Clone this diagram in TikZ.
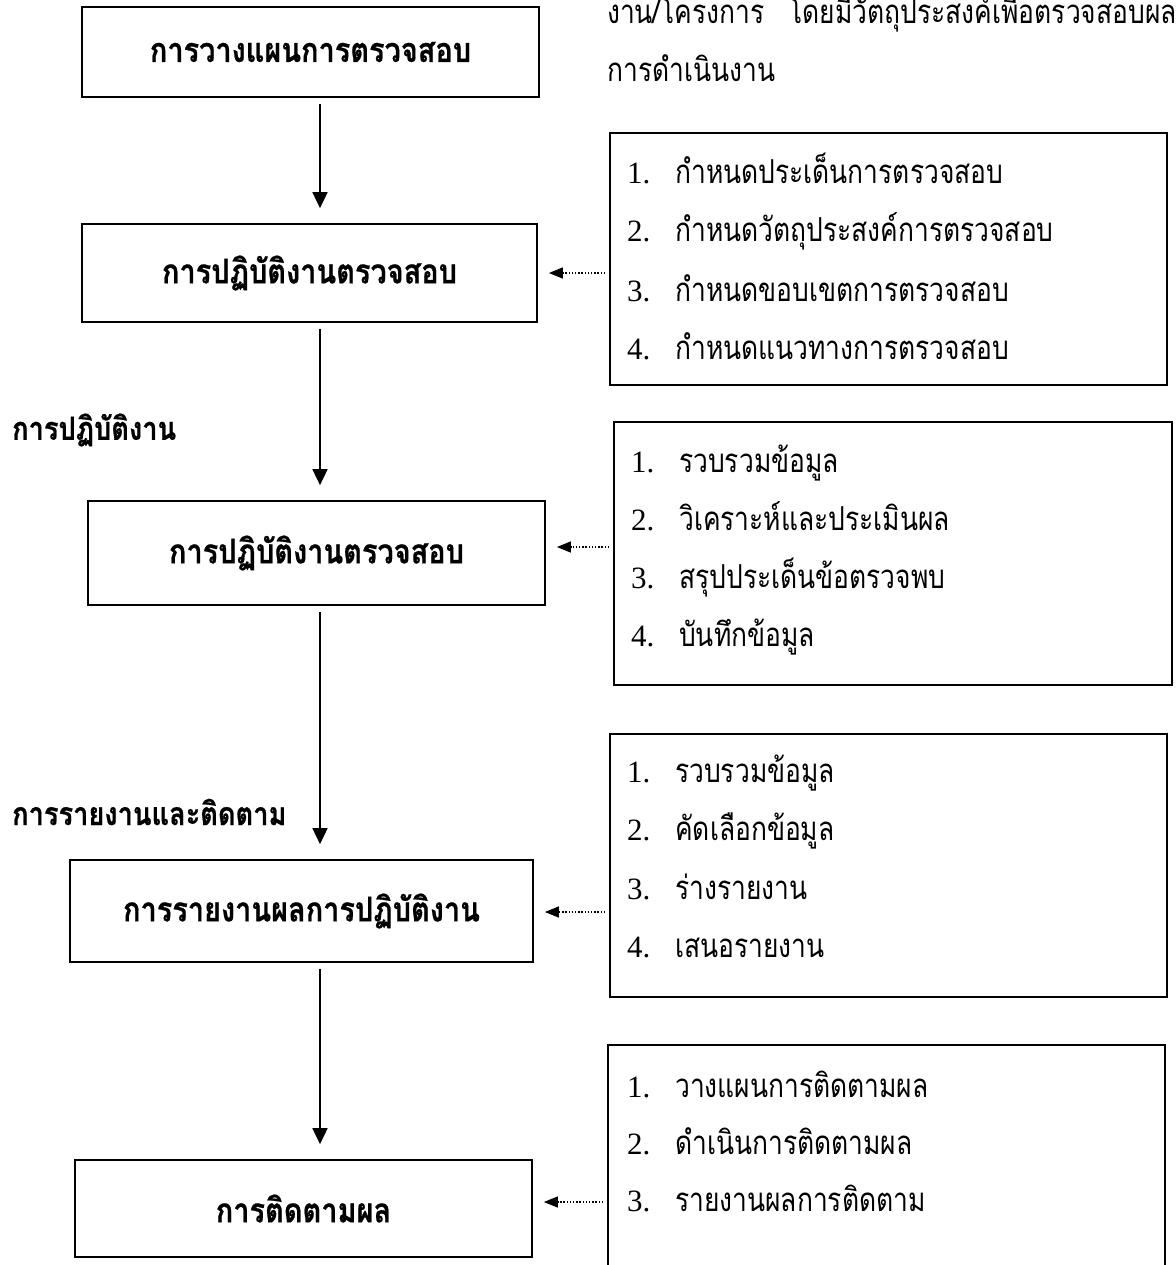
\documentclass[tikz,border=0pt]{standalone}
\usepackage{fontspec}
\setmainfont{Liberation Serif}
\newfontfamily\thai[Script=Thai, FakeStretch=0.8]{Loma}
\newfontfamily\thaiB[Script=Thai, FakeStretch=0.85, BoldFeatures={FakeBold=0.6, FakeStretch=0.85}]{Loma}
\usetikzlibrary{arrows.meta}
% one numbered line inside a task list box
\newcommand\lrow[5]{\node[item] (#1) at (#2,#3) {\makebox[48pt][l]{#4}{\thai\fontsize{33}{36}\selectfont #5}};}
\begin{document}
\begin{tikzpicture}[x=1pt,y=-1pt,
  stage/.style={draw, line width=1.7pt, inner sep=0pt, font=\thaiB\bfseries\fontsize{34}{38}\selectfont},
  listbox/.style={draw, line width=1.7pt, inner sep=0pt},
  item/.style={anchor=base west, inner sep=0pt, font=\fontsize{31}{36}\selectfont},
  phase/.style={anchor=west, inner sep=0pt, font=\thaiB\bfseries\fontsize{32}{36}\selectfont},
  note/.style={anchor=base west, inner sep=0pt, font=\thai\fontsize{33}{36}\selectfont},
  flow/.style={-{Triangle[length=16pt,width=15pt]}, line width=1.7pt, shorten >=15pt, shorten <=6pt},
  feed/.style={-{Triangle[length=14pt,width=11pt]}, line width=1.3pt, dash pattern=on 1.3pt off 1.9pt, shorten >=11pt, shorten <=4pt}
]
\useasboundingbox (0,0) rectangle (1175,1265);

% heading text carried over from the page above
\node[note] (n1) at (607,24) {งาน/โครงการ\hspace{24pt}โดยมีวัตถุประสงค์เพื่อตรวจสอบผล};
\node[note] (n2) at (607,82) {การดำเนินงาน};

% main stages
\node[stage, minimum width=457pt, minimum height=90pt]  (b1) at (310.5,52)   {การวางแผนการตรวจสอบ};
\node[stage, minimum width=455pt, minimum height=98pt]  (b2) at (309.5,273)  {การปฏิบัติงานตรวจสอบ};
\node[stage, minimum width=457pt, minimum height=104pt] (b3) at (316.5,553)  {การปฏิบัติงานตรวจสอบ};
\node[stage, minimum width=463pt, minimum height=102pt] (b4) at (301.5,911)  {การรายงานผลการปฏิบัติงาน};
\node[stage, minimum width=457pt, minimum height=97pt]  (b5) at (303.5,1208.5) {การติดตามผล};

% phase captions
\node[phase] (p1) at (12,430) {การปฏิบัติงาน};
\node[phase] (p2) at (12,812) {การรายงานและติดตาม};

% task list boxes
\node[listbox, minimum width=557pt, minimum height=252pt] (rA) at (888.5,259) {};
\node[listbox, minimum width=558pt, minimum height=263pt] (rB) at (893,553.5) {};
\node[listbox, minimum width=557pt, minimum height=263pt] (rC) at (888.5,865.5) {};
\node[listbox, minimum width=557pt, minimum height=255pt] (rD) at (886.5,1172.5) {};

\lrow{a1}{627}{184}{1.}{กำหนดประเด็นการตรวจสอบ}
\lrow{a2}{627}{242}{2.}{กำหนดวัตถุประสงค์การตรวจสอบ}
\lrow{a3}{627}{301}{3.}{กำหนดขอบเขตการตรวจสอบ}
\lrow{a4}{627}{359}{4.}{กำหนดแนวทางการตรวจสอบ}

\lrow{c1}{631}{472}{1.}{รวบรวมข้อมูล}
\lrow{c2}{631}{530}{2.}{วิเคราะห์และประเมินผล}
\lrow{c3}{631}{588}{3.}{สรุปประเด็นข้อตรวจพบ}
\lrow{c4}{631}{646}{4.}{บันทึกข้อมูล}

\lrow{r1}{627}{782}{1.}{รวบรวมข้อมูล}
\lrow{r2}{627}{840}{2.}{คัดเลือกข้อมูล}
\lrow{r3}{627}{899}{3.}{ร่างรายงาน}
\lrow{r4}{627}{957}{4.}{เสนอรายงาน}

\lrow{f1}{627}{1097}{1.}{วางแผนการติดตามผล}
\lrow{f2}{627}{1154}{2.}{ดำเนินการติดตามผล}
\lrow{f3}{627}{1211}{3.}{รายงานผลการติดตาม}

% flow down the stages
\coordinate (ax) at (320,0);
\draw[flow] (b1.south -| ax) -- (b2.north -| ax);
\draw[flow] (b2.south -| ax) -- (b3.north -| ax);
\draw[flow] (b3.south -| ax) -- (b4.north -| ax);
\draw[flow] (b4.south -| ax) -- (b5.north -| ax);

% task lists feeding their stages
\coordinate (ya) at (0,273);
\coordinate (yb) at (0,547);
\coordinate (yc) at (0,912);
\coordinate (yd) at (0,1202);
\draw[feed] (rA.west |- ya) -- (b2.east |- ya);
\draw[feed] (rB.west |- yb) -- (b3.east |- yb);
\draw[feed] (rC.west |- yc) -- (b4.east |- yc);
\draw[feed] (rD.west |- yd) -- (b5.east |- yd);
\end{tikzpicture}
\end{document}
